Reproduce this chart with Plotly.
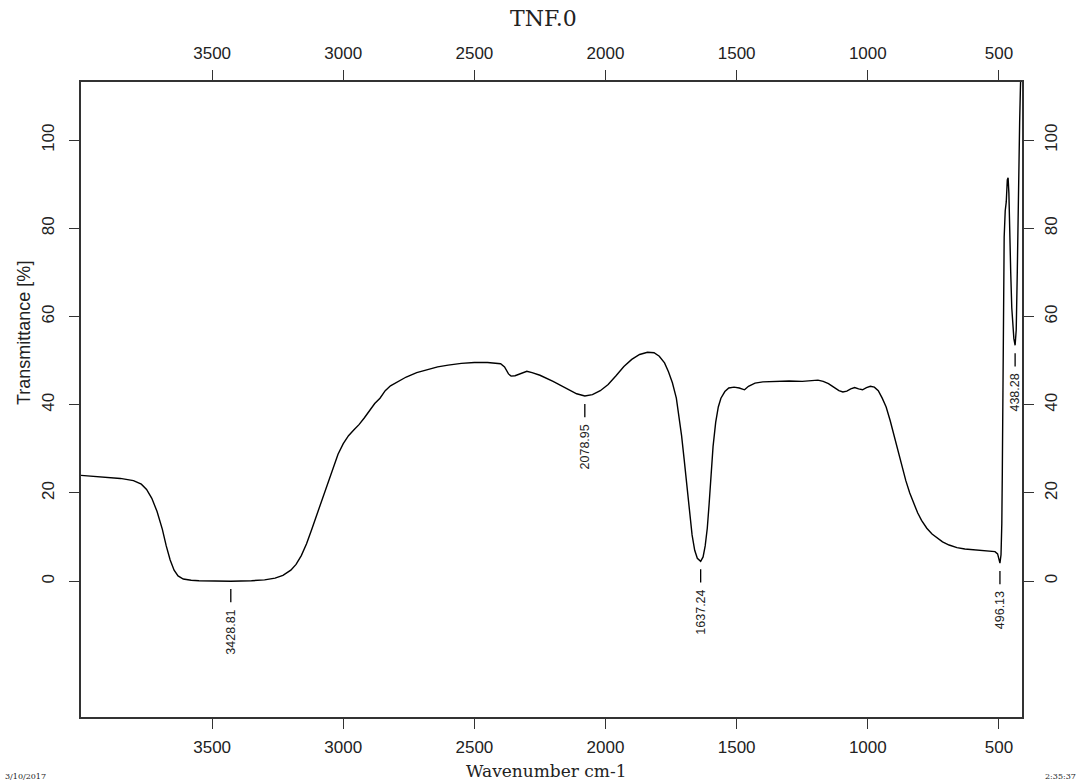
import plotly.graph_objects as go

title_text = "TNF.0"
x_title = "Wavenumber cm-1"
y_title = "Transmittance [%]"

wavenumber = [4000, 3950, 3900, 3850, 3800, 3770, 3750, 3730, 3710, 3690, 3675, 3660, 3645, 3630,
              3610, 3580, 3550, 3500, 3428.81, 3350, 3300, 3260, 3230, 3200, 3180, 3160, 3140, 3120,
              3100, 3080, 3060, 3040, 3020, 3000, 2980, 2960, 2940, 2920, 2900, 2880, 2860, 2840,
              2820, 2800, 2760, 2720, 2680, 2640, 2600, 2550, 2500, 2450, 2400, 2385, 2370, 2360,
              2345, 2330, 2300, 2280, 2250, 2200, 2150, 2110, 2078.95, 2050, 2020, 1990, 1960, 1930,
              1900, 1870, 1840, 1815, 1795, 1775, 1760, 1745, 1730, 1720, 1710, 1700, 1690, 1680,
              1670, 1660, 1650, 1637.24, 1628, 1620, 1612, 1605, 1598, 1590, 1580, 1570, 1560, 1545,
              1530, 1510, 1490, 1470, 1455, 1430, 1400, 1350, 1300, 1250, 1220, 1190, 1170, 1150,
              1130, 1110, 1095, 1080, 1065, 1050, 1035, 1020, 1005, 990, 975, 960, 945, 930, 915,
              900, 885, 870, 855, 840, 825, 810, 795, 775, 755, 735, 715, 690, 660, 630, 600, 570,
              540, 515, 505, 500, 496.13, 492, 489, 487, 485, 483, 480, 476, 472, 468, 465, 462,
              459, 455, 451, 447, 443, 438.28, 434, 430, 427, 424, 421, 418, 415]
transmittance = [24.0, 23.8, 23.6, 23.3, 22.8, 22.0, 20.8, 18.8, 15.8, 11.8, 8.0, 4.8, 2.5, 1.2,
                 0.5, 0.2, 0.1, 0.05, 0.0, 0.1, 0.3, 0.7, 1.3, 2.5, 3.8, 5.8, 8.5, 11.8,
                 15.2, 18.8, 22.3, 25.8, 28.8, 31.2, 33.0, 34.3, 35.5, 37.0, 38.8, 40.3, 41.5, 43.2,
                 44.3, 45.0, 46.3, 47.3, 48.0, 48.6, 49.0, 49.4, 49.6, 49.6, 49.3, 48.6, 47.0, 46.5,
                 46.6, 46.9, 47.6, 47.3, 46.7, 45.3, 43.8, 42.5, 42.0, 42.3, 43.2, 44.6, 46.6, 48.7,
                 50.3, 51.4, 51.9, 51.8, 51.0, 49.5, 47.5, 45.0, 41.5, 37.5, 33.0, 27.5, 21.5, 15.5,
                 10.5, 7.0, 5.2, 4.5, 5.5, 8.0, 12.0, 17.5, 24.0, 30.5, 36.0, 39.5, 41.5, 43.0,
                 43.8, 44.0, 43.8, 43.4, 44.2, 44.9, 45.2, 45.3, 45.4, 45.3, 45.5, 45.6, 45.3, 44.8,
                 44.0, 43.2, 42.9, 43.1, 43.6, 43.9, 43.6, 43.4, 43.9, 44.2, 44.0, 43.2, 41.5, 39.5, 36.5,
                 33.0, 29.5, 26.0, 22.8, 20.0, 17.6, 15.5, 13.8, 12.0, 10.7, 9.7, 8.9, 8.2, 7.6, 7.3, 7.1, 6.9,
                 6.8, 6.7, 6.2, 5.0, 4.1, 6.0, 13.0, 25.0, 40.0, 62.0, 78.0, 84.0, 86.0, 91.0, 91.5, 88.0,
                 78.0, 70.0, 62.0, 57.0, 55.0, 53.5, 57.0, 70.0, 85.0, 95.0, 104.0, 112.0, 118.0]

peak_wn = [3428.81, 2078.95, 1637.24, 496.13, 438.28]
peak_t = [0.0, 42.0, 4.5, 4.1, 53.5]
peak_labels = ["3428.81", "2078.95", "1637.24", "496.13", "438.28"]

x_ticks = [3500, 3000, 2500, 2000, 1500, 1000, 500]
y_ticks = [0, 20, 40, 60, 80, 100]
x_range = [4000, 412]
y_range = [-30.8, 113.2]

footer_left = "3/10/2017"
footer_right = "2:35:37"

axis_color = "#333333"
sans = "Liberation Sans, Arial, sans-serif"
tick_font = dict(family=sans, size=17, color="#222222")
serif = "DejaVu Serif, Liberation Serif, serif"

fig = go.Figure()
fig.add_trace(go.Scatter(x=wavenumber, y=transmittance, mode="lines",
                         line=dict(color="black", width=1.4), hoverinfo="skip",
                         showlegend=False, xaxis="x", yaxis="y"))
fig.add_trace(go.Scatter(x=[wavenumber[0]], y=[transmittance[0]], mode="markers",
                         marker=dict(opacity=0), showlegend=False, hoverinfo="skip",
                         xaxis="x2", yaxis="y2"))

for wn, t, lab in zip(peak_wn, peak_t, peak_labels):
    fig.add_shape(type="line", xref="x", yref="y", x0=wn, x1=wn, y0=t - 1.8, y1=t - 4.8,
                  line=dict(color="black", width=1.3))
    fig.add_annotation(x=wn, y=t - 4.8, xref="x", yref="y", text=lab, showarrow=False,
                       textangle=-90, xanchor="center", yanchor="top", yshift=-5,
                       font=dict(family=sans, size=12.5, color="#222222"))

axis_common = dict(showline=True, linecolor=axis_color, linewidth=1.5, ticks="outside",
                   ticklen=10, tickwidth=1.3, tickcolor=axis_color, showgrid=False,
                   zeroline=False, tickfont=tick_font)

fig.update_layout(
    width=1081, height=783,
    margin=dict(l=81, r=59, t=82, b=66),
    paper_bgcolor="white", plot_bgcolor="white",
    xaxis=dict(range=x_range, tickvals=x_ticks, ticktext=[str(v) for v in x_ticks],
               mirror=True, ticklabelstandoff=4, **axis_common),
    xaxis2=dict(range=x_range, tickvals=x_ticks, ticktext=[str(v) for v in x_ticks],
                overlaying="x", side="top", ticklabelstandoff=4, **axis_common),
    yaxis=dict(range=y_range, tickvals=y_ticks, ticktext=[str(v) for v in y_ticks],
               tickangle=-90, mirror=True, ticklabelstandoff=8, **axis_common),
    yaxis2=dict(range=y_range, tickvals=y_ticks, ticktext=[str(v) for v in y_ticks],
                tickangle=-90, overlaying="y", side="right", ticklabelstandoff=3,
                **axis_common),
    showlegend=False,
)

fig.add_annotation(text=title_text, xref="paper", yref="paper", x=(543 - 81) / 941,
                   y=1 + (82 - 18) / 635, showarrow=False, xanchor="center", yanchor="middle",
                   font=dict(family=serif, size=22, color="#222222"))
fig.add_annotation(text=x_title, xref="paper", yref="paper", x=(546 - 81) / 941,
                   y=-(771 - 717) / 635, showarrow=False, xanchor="center", yanchor="middle",
                   font=dict(family=serif, size=17, color="#222222"))
fig.add_annotation(text=y_title, xref="paper", yref="paper", x=(24 - 81) / 941,
                   y=(717 - 333) / 635, showarrow=False, xanchor="center", yanchor="middle",
                   textangle=-90, font=dict(family=sans, size=18, color="#222222"))
fig.add_annotation(text=footer_left, xref="paper", yref="paper", x=(3 - 81) / 941,
                   y=-(776 - 717) / 635, showarrow=False, xanchor="left", yanchor="middle",
                   font=dict(family=serif, size=8, color="#222222"))
fig.add_annotation(text=footer_right, xref="paper", yref="paper", x=(1078 - 81) / 941,
                   y=-(776 - 717) / 635, showarrow=False, xanchor="right", yanchor="middle",
                   font=dict(family=serif, size=8, color="#222222"))

fig.write_html("out.html")
